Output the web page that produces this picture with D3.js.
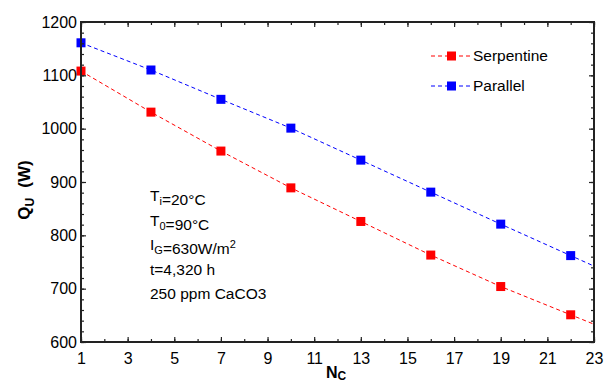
<!DOCTYPE html>
<html>
<head>
<meta charset="utf-8">
<script src="https://cdn.jsdelivr.net/npm/d3@7"></script>
<style>
  html, body { margin: 0; padding: 0; background: #fff; }
  svg { display: block; font-family: "Liberation Sans", Arial, sans-serif; }
</style>
</head>
<body>
<svg id="chart" width="604" height="385"></svg>
<script>
// Number of channels
const channels = [1, 4, 7, 10, 13, 16, 19, 22];
// Useful heat gain Q_U (W)
const serpentine = [1108, 1031, 958, 889, 826, 763, 704, 651];
const parallel = [1161, 1110, 1055, 1001, 941, 881, 821, 762];
const seriesNames = ["Serpentine", "Parallel"];
const seriesColors = ["#ff0000", "#0000ff"];
const xTicks = [1, 3, 5, 7, 9, 11, 13, 15, 17, 19, 21, 23];
const yTicks = [600, 700, 800, 900, 1000, 1100, 1200];
const notes = ["T_i=20°C", "T_0=90°C", "I_G=630W/m^2", "t=4,320 h", "250 ppm CaCO3"];

const FONT = "'Liberation Sans', Arial, sans-serif";
const svg = d3.select("#chart");
const m = { left: 81, right: 594, top: 22, bottom: 342 };
const x = d3.scaleLinear().domain([1, 23]).range([m.left, m.right]);
const y = d3.scaleLinear().domain([600, 1200]).range([m.bottom, m.top]);

const series = [serpentine, parallel].map((vals, i) => ({
  name: seriesNames[i], color: seriesColors[i],
  pts: channels.map((c, j) => ({ x: c, y: vals[j] }))
}));

// dashed trend through the points, carried on to the right edge of the plot
const line = d3.line().x(d => x(d.x)).y(d => y(d.y));
const plot = svg.append("g");
series.forEach(s => {
  const p = s.pts, n = p.length;
  const slope = (p[n - 1].y - p[n - 2].y) / (p[n - 1].x - p[n - 2].x);
  const end = { x: 23, y: p[n - 1].y + slope * (23 - p[n - 1].x) };
  plot.append("path").datum(p.concat([end]))
    .attr("d", line).attr("fill", "none")
    .attr("stroke", s.color).attr("stroke-width", 1)
    .attr("stroke-dasharray", "4,3");
  plot.selectAll(null).data(p).enter().append("rect")
    .attr("x", d => x(d.x) - 4.5).attr("y", d => y(d.y) - 4.5)
    .attr("width", 9).attr("height", 9)
    .attr("fill", s.color);
});

// axes: ticks inward on all four sides
const tickStyle = g => { g.selectAll("path").remove(); g.selectAll("line").attr("stroke", "#222").attr("stroke-width", 1.2); };
const minorX = d3.range(1, 24);
const minorY = d3.range(600, 1201, 20);

svg.append("g").attr("transform", `translate(0,${m.bottom})`)
  .call(d3.axisBottom(x).tickValues(minorX).tickSize(-3).tickFormat("")).call(tickStyle);
const xB = svg.append("g").attr("transform", `translate(0,${m.bottom})`)
  .call(d3.axisBottom(x).tickValues(xTicks).tickSize(-5).tickPadding(11).tickFormat(d3.format("d"))).call(tickStyle);
xB.selectAll("text").attr("font-size", 16).attr("fill", "#000").attr("font-family", FONT);

svg.append("g").attr("transform", `translate(0,${m.top})`)
  .call(d3.axisTop(x).tickValues(minorX).tickSize(-3).tickFormat("")).call(tickStyle);
svg.append("g").attr("transform", `translate(0,${m.top})`)
  .call(d3.axisTop(x).tickValues(xTicks).tickSize(-5).tickFormat("")).call(tickStyle);

svg.append("g").attr("transform", `translate(${m.left},0)`)
  .call(d3.axisLeft(y).tickValues(minorY).tickSize(-3).tickFormat("")).call(tickStyle);
const yL = svg.append("g").attr("transform", `translate(${m.left},0)`)
  .call(d3.axisLeft(y).tickValues(yTicks).tickSize(-5).tickPadding(4).tickFormat(d3.format("d"))).call(tickStyle);
yL.selectAll("text").attr("font-size", 16).attr("fill", "#000").attr("font-family", FONT);

svg.append("g").attr("transform", `translate(${m.right},0)`)
  .call(d3.axisRight(y).tickValues(minorY).tickSize(-3).tickFormat("")).call(tickStyle);
svg.append("g").attr("transform", `translate(${m.right},0)`)
  .call(d3.axisRight(y).tickValues(yTicks).tickSize(-5).tickFormat("")).call(tickStyle);

// frame
svg.append("rect").attr("x", m.left).attr("y", m.top)
  .attr("width", m.right - m.left).attr("height", m.bottom - m.top)
  .attr("fill", "none").attr("stroke", "#222").attr("stroke-width", 2);

// axis titles
const yt = svg.append("text").attr("transform", "translate(30,190) rotate(-90)")
  .attr("text-anchor", "middle").attr("font-size", 17).attr("font-weight", "bold").attr("font-family", FONT);
yt.append("tspan").text("Q");
yt.append("tspan").attr("font-size", 12).attr("dy", 4).text("U");
yt.append("tspan").attr("dy", -4).attr("dx", 10).text("(W)");

const xt = svg.append("text").attr("x", 336).attr("y", 378)
  .attr("text-anchor", "middle").attr("font-size", 16).attr("font-weight", "bold").attr("font-family", FONT);
xt.append("tspan").text("N");
xt.append("tspan").attr("font-size", 12).attr("dy", 2).text("C");

// legend
series.forEach((s, i) => {
  const ly = 56 + i * 30;
  svg.append("line").attr("x1", 431).attr("x2", 470).attr("y1", ly).attr("y2", ly)
    .attr("stroke", s.color).attr("stroke-width", 1).attr("stroke-dasharray", "4,3");
  svg.append("rect").attr("x", 447).attr("y", ly - 4.5).attr("width", 9).attr("height", 9).attr("fill", s.color);
  svg.append("text").attr("x", 473).attr("y", ly + 5).attr("font-size", 15.5).attr("font-family", FONT).text(s.name);
});

// operating conditions; _x marks a subscript, ^x a superscript
notes.forEach((n, i) => {
  const t = svg.append("text").attr("x", 150).attr("y", 201 + i * 24.5)
    .attr("font-size", 15.5).attr("font-family", FONT);
  const re = /([_^])(.)/g;
  let last = 0, mm;
  while ((mm = re.exec(n)) !== null) {
    t.append("tspan").text(n.slice(last, mm.index));
    const dy = mm[1] === "_" ? 4 : -6;
    t.append("tspan").attr("font-size", 11).attr("dy", dy).text(mm[2]);
    t.append("tspan").attr("dy", -dy).text("");
    last = re.lastIndex;
  }
  t.append("tspan").text(n.slice(last));
});
</script>
</body>
</html>
